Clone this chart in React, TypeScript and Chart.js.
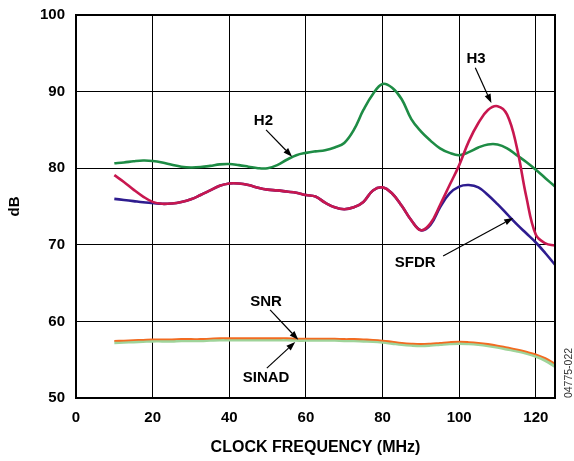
import React, { useEffect, useRef } from "react";
import { Chart, registerables } from "chart.js";

Chart.register(...registerables);

const FREQ_MHZ = [10, 12.5, 15, 17.5, 20, 22.5, 25, 27.5, 30, 32.5, 35, 37.5, 40, 42.5, 45, 47.5, 50, 52.5, 55, 57.5, 60, 62.5, 65, 67.5, 70, 72.5, 75, 77.5, 80, 82.5, 85, 87.5, 90, 92.5, 95, 97.5, 100, 102.5, 105, 107.5, 110, 112.5, 115, 117.5, 120, 122.5, 125];

const H2_DB = [80.65, 80.75, 80.9, 81.0, 80.95, 80.75, 80.45, 80.2, 80.1, 80.15, 80.3, 80.5, 80.55, 80.4, 80.2, 80.0, 80.0, 80.4, 81.1, 81.7, 82.0, 82.2, 82.35, 82.7, 83.3, 85.0, 87.6, 89.7, 91.0, 90.5, 89.0, 86.4, 84.8, 83.6, 82.6, 82.0, 81.7, 82.1, 82.7, 83.1, 83.1, 82.6, 81.7, 80.8, 79.8, 78.7, 77.6];

const H3_DB = [79.1, 78.2, 77.2, 76.3, 75.6, 75.35, 75.4, 75.6, 75.95, 76.5, 77.1, 77.7, 78.0, 78.0, 77.8, 77.45, 77.2, 77.1, 76.95, 76.8, 76.5, 76.3, 75.5, 74.9, 74.65, 74.9, 75.6, 77.1, 77.5, 76.7, 75.1, 73.2, 71.9, 72.8, 75.2, 77.8, 80.4, 83.5, 85.9, 87.6, 88.1, 87.0, 82.8, 76.3, 71.3, 70.2, 69.9];

const SFDR_DB = [76.0, 75.85, 75.7, 75.55, 75.45, 75.35, 75.4, 75.6, 75.95, 76.5, 77.1, 77.7, 78.0, 78.0, 77.8, 77.45, 77.2, 77.1, 76.95, 76.8, 76.5, 76.3, 75.5, 74.9, 74.65, 74.9, 75.6, 77.1, 77.5, 76.7, 75.1, 73.2, 71.9, 72.6, 74.9, 76.7, 77.6, 77.8, 77.5, 76.5, 75.3, 74.0, 72.7, 71.5, 70.3, 68.9, 67.4];

const SNR_DB = [57.45, 57.5, 57.55, 57.6, 57.65, 57.65, 57.65, 57.7, 57.7, 57.7, 57.75, 57.8, 57.8, 57.8, 57.8, 57.8, 57.8, 57.8, 57.8, 57.75, 57.75, 57.75, 57.75, 57.75, 57.7, 57.7, 57.65, 57.6, 57.5, 57.35, 57.2, 57.1, 57.05, 57.1, 57.2, 57.3, 57.35, 57.3, 57.2, 57.05, 56.85, 56.6, 56.35, 56.05, 55.7, 55.2, 54.5];

const SINAD_DB = [57.25, 57.3, 57.35, 57.4, 57.45, 57.45, 57.45, 57.5, 57.5, 57.5, 57.55, 57.6, 57.6, 57.6, 57.6, 57.6, 57.6, 57.6, 57.6, 57.55, 57.55, 57.55, 57.55, 57.55, 57.5, 57.5, 57.45, 57.4, 57.3, 57.15, 57.0, 56.9, 56.85, 56.9, 57.0, 57.1, 57.15, 57.1, 57.0, 56.85, 56.65, 56.4, 56.15, 55.85, 55.45, 54.9, 54.15];

const X_TICKS = [0, 20, 40, 60, 80, 100, 120];
const Y_TICKS = [50, 60, 70, 80, 90, 100];

const X_TITLE = "CLOCK FREQUENCY (MHz)";
const Y_TITLE = "dB";
const FIG_ID = "04775-022";

// callouts in data units: label centre and arrow from -> to
const CALLOUTS = [
  { text: "H2", tx: 48.9, ty: 86.2, x1: 49.6, y1: 85.0, x2: 56.4, y2: 81.5 },
  { text: "H3", tx: 104.4, ty: 94.3, x1: 104.2, y1: 93.1, x2: 108.4, y2: 88.5 },
  { text: "SFDR", tx: 88.5, ty: 67.6, x1: 95.8, y1: 68.55, x2: 114.1, y2: 73.5 },
  { text: "SNR", tx: 49.6, ty: 62.55, x1: 50.65, y1: 61.5, x2: 58.0, y2: 57.6 },
  { text: "SINAD", tx: 49.6, ty: 52.6, x1: 49.8, y1: 53.9, x2: 57.2, y2: 57.3 },
];

const FONT = "'Liberation Sans', Arial, Helvetica, sans-serif";

const pts = (ys: number[]) => FREQ_MHZ.map((x, i) => ({ x, y: ys[i] }));

const overlayPlugin = {
  id: "overlay",
  afterDatasetsDraw(chart: any) {
    const { ctx, chartArea, scales } = chart;
    const xs = scales.x;
    const ys = scales.y;
    ctx.save();
    // frame
    ctx.strokeStyle = "#000";
    ctx.lineWidth = 2;
    ctx.strokeRect(chartArea.left, chartArea.top, chartArea.right - chartArea.left, chartArea.bottom - chartArea.top);
    // callouts
    ctx.fillStyle = "#000";
    ctx.font = `bold 15px ${FONT}`;
    ctx.textAlign = "center";
    ctx.textBaseline = "middle";
    for (const c of CALLOUTS) {
      ctx.fillText(c.text, xs.getPixelForValue(c.tx), ys.getPixelForValue(c.ty));
      const ax = xs.getPixelForValue(c.x1);
      const ay = ys.getPixelForValue(c.y1);
      const bx = xs.getPixelForValue(c.x2);
      const by = ys.getPixelForValue(c.y2);
      const ang = Math.atan2(by - ay, bx - ax);
      const hl = 9;
      const hw = 3.2;
      const baseX = bx - hl * Math.cos(ang);
      const baseY = by - hl * Math.sin(ang);
      ctx.beginPath();
      ctx.lineWidth = 1.2;
      ctx.moveTo(ax, ay);
      ctx.lineTo(baseX, baseY);
      ctx.stroke();
      ctx.beginPath();
      ctx.moveTo(bx, by);
      ctx.lineTo(baseX + hw * Math.sin(ang), baseY - hw * Math.cos(ang));
      ctx.lineTo(baseX - hw * Math.sin(ang), baseY + hw * Math.cos(ang));
      ctx.closePath();
      ctx.fill();
    }
    // figure id
    ctx.font = `10.5px ${FONT}`;
    ctx.fillStyle = "#333";
    ctx.translate(569, 373);
    ctx.rotate(-Math.PI / 2);
    ctx.fillText(FIG_ID, 0, 0);
    ctx.restore();
  },
};

export default function App() {
  const ref = useRef<HTMLCanvasElement | null>(null);

  useEffect(() => {
    if (!ref.current) return;
    const line = (label: string, ys: number[], color: string, width: number) => ({
      label,
      data: pts(ys),
      borderColor: color,
      backgroundColor: color,
      borderWidth: width,
      pointRadius: 0,
      tension: 0.4,
      fill: false,
    });
    const chart = new Chart(ref.current, {
      type: "line",
      data: {
        datasets: [
          line("SNR", SNR_DB, "#f26b21", 1.8),
          line("SINAD", SINAD_DB, "#9fd49a", 3.4),
          line("H3", H3_DB, "#c8174f", 2.6),
          line("SFDR", SFDR_DB, "#2e1c8f", 2.6),
          line("H2", H2_DB, "#1e8c45", 2.6),
        ],
      },
      options: {
        responsive: false,
        animation: false,
        layout: { padding: { left: 0, right: 19, top: 15, bottom: 0 } },
        plugins: { legend: { display: false }, tooltip: { enabled: false } },
        scales: {
          x: {
            type: "linear",
            min: 0,
            max: 125,
            afterBuildTicks: (s: any) => {
              s.ticks = X_TICKS.map((v) => ({ value: v }));
            },
            afterFit: (s: any) => {
              s.height = 63;
              s.paddingLeft = 0;
              s.paddingRight = 0;
            },
            grid: { color: "#000", lineWidth: 1, drawTicks: false },
            border: { display: true, color: "#000", width: 2 },
            ticks: { color: "#000", font: { family: FONT, size: 15, weight: "bold" }, padding: 11, maxRotation: 0 },
            title: { display: true, text: X_TITLE, color: "#000", font: { family: FONT, size: 16, weight: "bold" }, padding: { top: 0, bottom: 4 } },
          },
          y: {
            type: "linear",
            min: 50,
            max: 100,
            afterBuildTicks: (s: any) => {
              s.ticks = Y_TICKS.map((v) => ({ value: v }));
            },
            afterFit: (s: any) => {
              s.width = 76;
              s.paddingTop = 0;
              s.paddingBottom = 0;
            },
            grid: { color: "#000", lineWidth: 1, drawTicks: false },
            border: { display: true, color: "#000", width: 2 },
            ticks: { color: "#000", font: { family: FONT, size: 15, weight: "bold" }, padding: 11 },
            title: { display: true, text: Y_TITLE, color: "#000", font: { family: FONT, size: 15, weight: "bold" }, padding: { top: 6, bottom: 0 } },
          },
        },
      },
      plugins: [overlayPlugin],
    } as any);
    return () => chart.destroy();
  }, []);

  return (
    <div style={{ position: "fixed", left: 0, top: 0, width: 574, height: 461, background: "#fff" }}>
      <canvas ref={ref} width={574} height={461} style={{ width: 574, height: 461, display: "block" }} />
    </div>
  );
}
